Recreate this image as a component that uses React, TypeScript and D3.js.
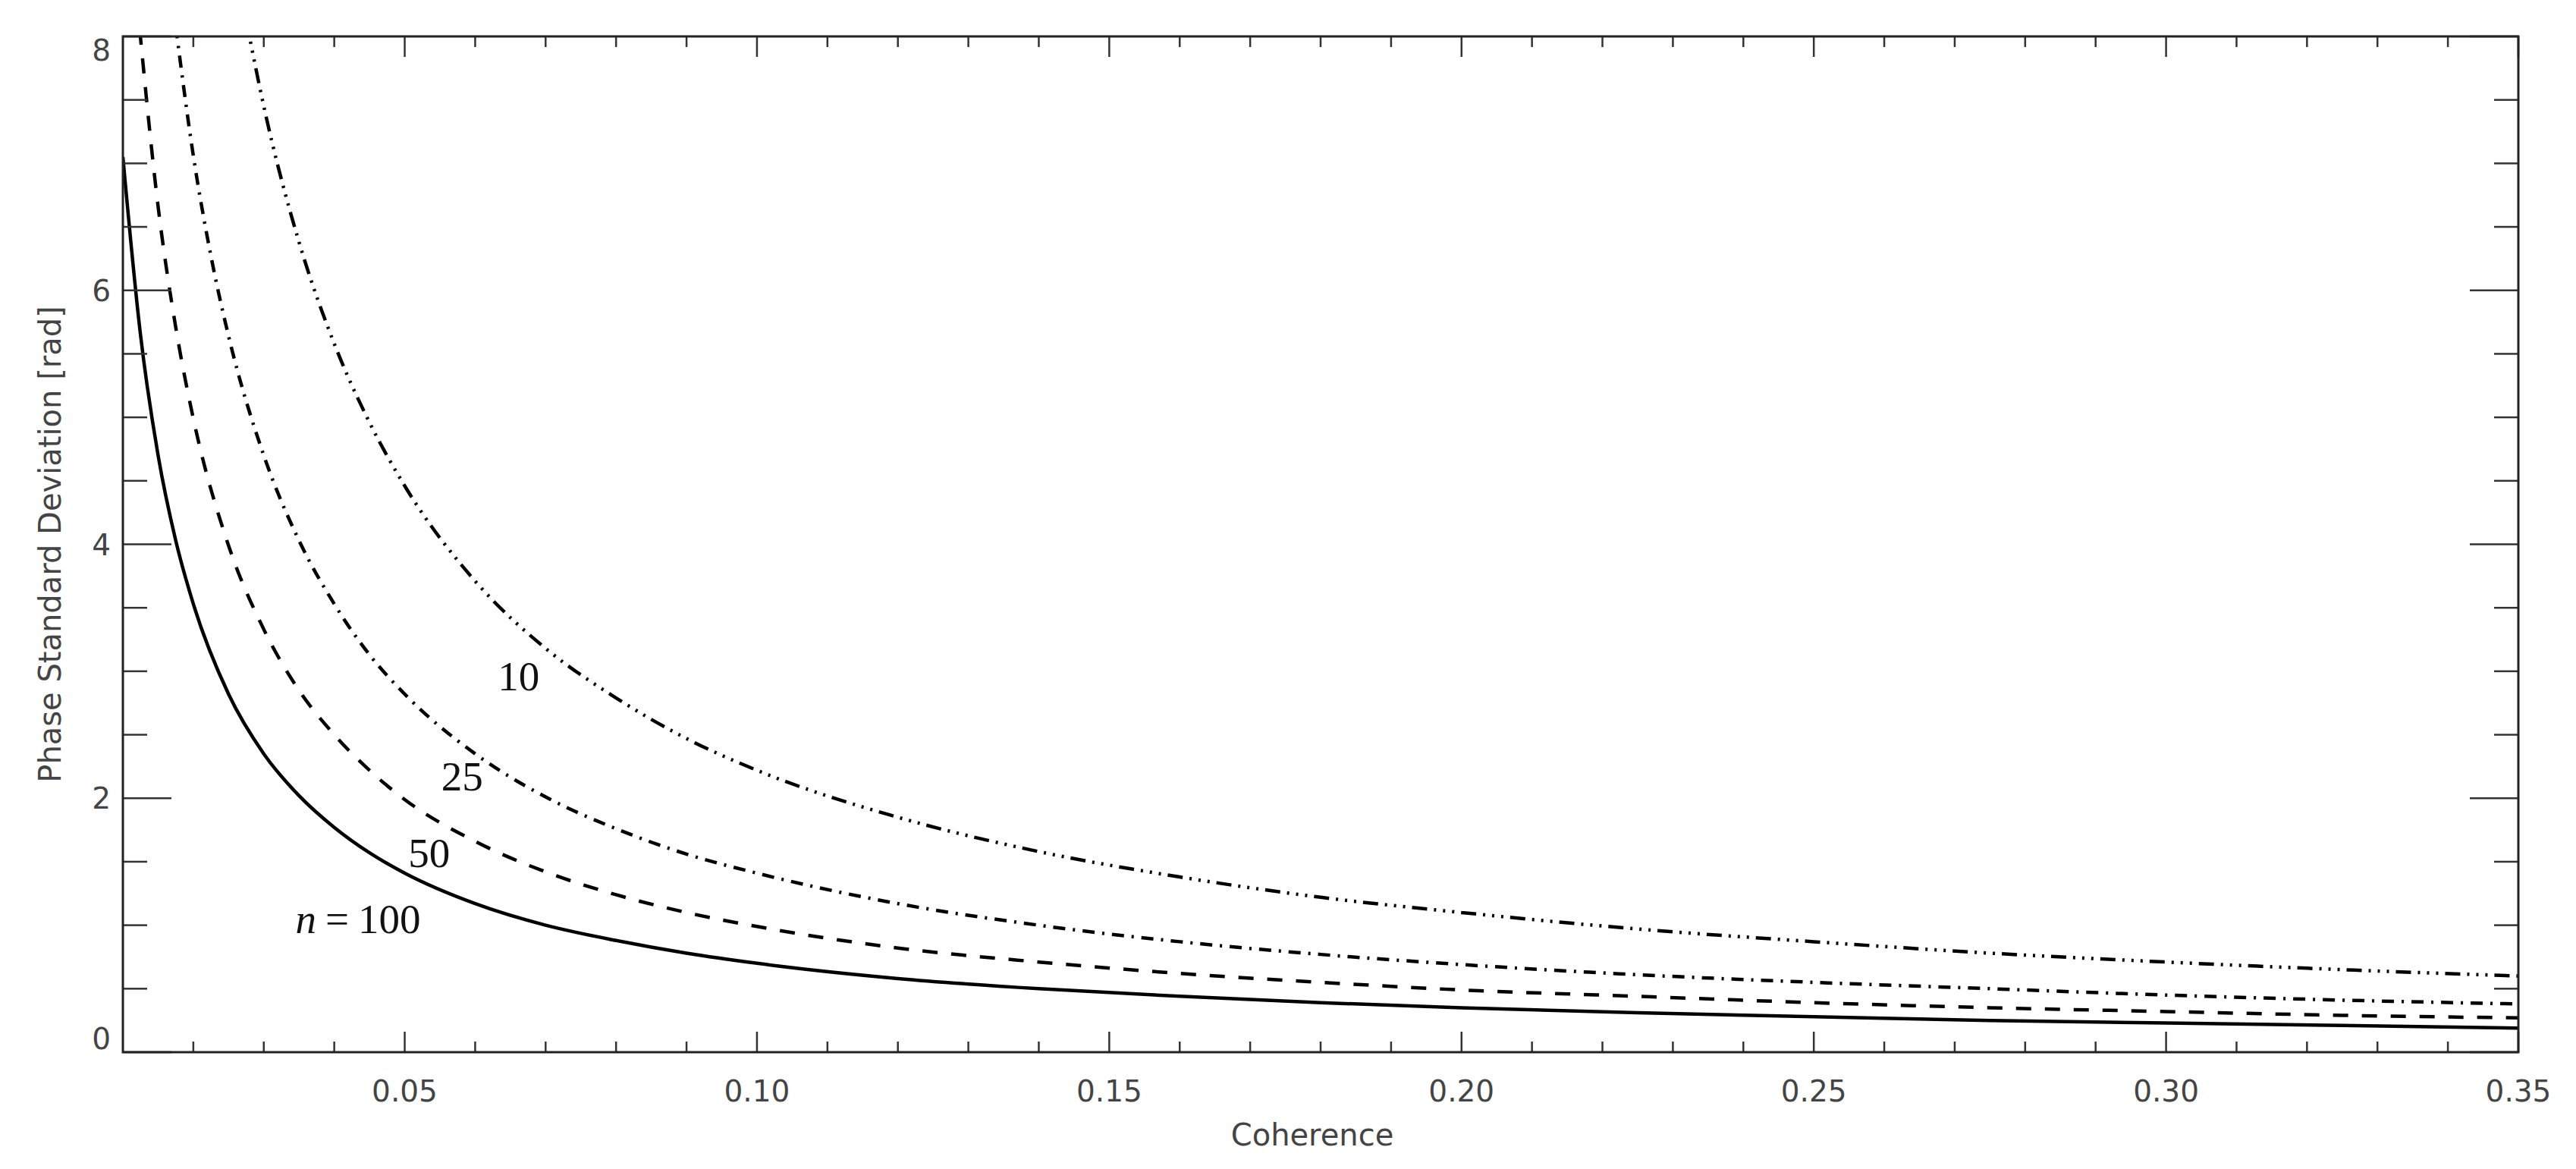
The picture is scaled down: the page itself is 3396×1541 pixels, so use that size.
import { useEffect } from "react";
import * as d3 from "d3";

// coherence samples (x) and phase std dev for each look count
const coh100 = [0.01, 0.0125, 0.015, 0.0175, 0.02, 0.025, 0.03, 0.035, 0.04, 0.045, 0.05, 0.06, 0.07, 0.08, 0.09, 0.1, 0.12, 0.14, 0.16, 0.18, 0.2, 0.225, 0.25, 0.275, 0.3, 0.325, 0.35];
const std100 = [7.05, 5.65, 4.7, 4.03, 3.53, 2.82, 2.35, 2.02, 1.77, 1.57, 1.41, 1.17, 1.0, 0.88, 0.78, 0.7, 0.58, 0.5, 0.44, 0.39, 0.35, 0.31, 0.28, 0.25, 0.23, 0.21, 0.19];

const coh50 = [0.012, 0.0125, 0.015, 0.0175, 0.02, 0.025, 0.03, 0.035, 0.04, 0.045, 0.05, 0.06, 0.07, 0.08, 0.09, 0.1, 0.12, 0.14, 0.16, 0.18, 0.2, 0.225, 0.25, 0.275, 0.3, 0.325, 0.35];
const std50 = [8.28, 7.99, 6.66, 5.71, 4.99, 3.99, 3.33, 2.85, 2.5, 2.22, 1.99, 1.66, 1.42, 1.24, 1.1, 0.99, 0.82, 0.71, 0.62, 0.55, 0.49, 0.44, 0.39, 0.35, 0.32, 0.29, 0.27];

const coh25 = [0.0175, 0.02, 0.0225, 0.025, 0.03, 0.035, 0.04, 0.045, 0.05, 0.06, 0.07, 0.08, 0.09, 0.1, 0.12, 0.14, 0.16, 0.18, 0.2, 0.225, 0.25, 0.275, 0.3, 0.325, 0.35];
const std25 = [8.08, 7.06, 6.27, 5.64, 4.7, 4.03, 3.53, 3.13, 2.82, 2.35, 2.01, 1.76, 1.56, 1.41, 1.17, 1.0, 0.87, 0.77, 0.69, 0.61, 0.55, 0.5, 0.45, 0.41, 0.38];

const coh10 = [0.0275, 0.03, 0.035, 0.04, 0.045, 0.05, 0.06, 0.07, 0.08, 0.09, 0.1, 0.12, 0.14, 0.16, 0.18, 0.2, 0.225, 0.25, 0.275, 0.3, 0.325, 0.35];
const std10 = [8.13, 7.45, 6.38, 5.58, 4.96, 4.46, 3.71, 3.18, 2.79, 2.47, 2.22, 1.85, 1.58, 1.38, 1.22, 1.1, 0.97, 0.87, 0.78, 0.71, 0.65, 0.6];

const xMajorTicks = [0.05, 0.1, 0.15, 0.2, 0.25, 0.3, 0.35];
const xTickLabels = ["0.05", "0.10", "0.15", "0.20", "0.25", "0.30", "0.35"];
const xMinorTicks = [0.02, 0.03, 0.04, 0.06, 0.07, 0.08, 0.09, 0.11, 0.12, 0.13, 0.14, 0.16, 0.17, 0.18, 0.19, 0.21, 0.22, 0.23, 0.24, 0.26, 0.27, 0.28, 0.29, 0.31, 0.32, 0.33, 0.34];
const yMajorTicks = [0, 2, 4, 6, 8];
const yMinorTicks = [0.5, 1, 1.5, 2.5, 3, 3.5, 4.5, 5, 5.5, 6.5, 7, 7.5];

// curve labels, in data units (coherence, std dev of the text baseline)
const labelText = ["10", "25", "50"];
const labelX = [0.0632, 0.0552, 0.0505];
const labelY = [2.85, 2.06, 1.46];

const series = [
  { x: coh100, y: std100, dash: null },
  { x: coh50, y: std50, dash: "20,18" },
  { x: coh25, y: std25, dash: "16,10,3,10" },
  { x: coh10, y: std10, dash: "20,9,3,9,3,9,3,9" },
];

const W = 3396;
const H = 1541;
const margin = { left: 162, right: W - 3320, top: 48, bottom: H - 1387 };

export default function App() {
  useEffect(() => {
    document.body.style.margin = "0";
  }, []);

  const x = d3.scaleLinear().domain([0.01, 0.35]).range([margin.left, W - margin.right]);
  const y = d3.scaleLinear().domain([0, 8]).range([H - margin.bottom, margin.top]);
  const [x0, x1] = x.range();
  const [y0, y1] = y.range();

  const line = d3
    .line<[number, number]>()
    .x((d) => x(d[0]))
    .y((d) => y(d[1]))
    .curve(d3.curveMonotoneX);

  const tickColor = "#333";
  const sans = "'DejaVu Sans', sans-serif";
  const serif = "'Liberation Serif', 'Times New Roman', serif";

  return (
    <svg width={W} height={H} style={{ display: "block", background: "#fff" }}>
      <defs>
        <clipPath id="plotClip">
          <rect x={x0} y={y1} width={x1 - x0} height={y0 - y1} />
        </clipPath>
      </defs>

      {/* curves */}
      <g clipPath="url(#plotClip)">
        {series.map((s, i) => (
          <path
            key={i}
            d={line(s.x.map((v, j) => [v, s.y[j]] as [number, number])) ?? ""}
            fill="none"
            stroke="#000"
            strokeWidth={4.5}
            strokeDasharray={s.dash ?? undefined}
          />
        ))}
      </g>

      {/* ticks, all four sides */}
      <g stroke={tickColor} strokeWidth={2.5}>
        {xMajorTicks.map((t) => (
          <g key={"xM" + t}>
            <line x1={x(t)} x2={x(t)} y1={y0} y2={y0 - 27} />
            <line x1={x(t)} x2={x(t)} y1={y1} y2={y1 + 27} />
          </g>
        ))}
        {xMinorTicks.map((t) => (
          <g key={"xm" + t}>
            <line x1={x(t)} x2={x(t)} y1={y0} y2={y0 - 14} />
            <line x1={x(t)} x2={x(t)} y1={y1} y2={y1 + 14} />
          </g>
        ))}
        {yMajorTicks.map((t) => (
          <g key={"yM" + t}>
            <line x1={x0} x2={x0 + 64} y1={y(t)} y2={y(t)} />
            <line x1={x1} x2={x1 - 64} y1={y(t)} y2={y(t)} />
          </g>
        ))}
        {yMinorTicks.map((t) => (
          <g key={"ym" + t}>
            <line x1={x0} x2={x0 + 32} y1={y(t)} y2={y(t)} />
            <line x1={x1} x2={x1 - 32} y1={y(t)} y2={y(t)} />
          </g>
        ))}
      </g>

      {/* frame */}
      <rect x={x0} y={y1} width={x1 - x0} height={y0 - y1} fill="none" stroke="#222" strokeWidth={3} />

      {/* tick labels */}
      <g fontFamily={sans} fontSize={39} fill="#444">
        {xMajorTicks.map((t, i) => (
          <text key={"xl" + t} x={x(t)} y={y0 + 65} textAnchor="middle">
            {xTickLabels[i]}
          </text>
        ))}
        {yMajorTicks.map((t, i) => {
          let dy = 14;
          if (i === 0) dy = -4;
          if (i === yMajorTicks.length - 1) dy = 32;
          return (
            <text key={"yl" + t} x={x0 - 16} y={y(t) + dy} textAnchor="end">
              {t}
            </text>
          );
        })}
      </g>

      {/* axis titles */}
      <text x={1730} y={1510} textAnchor="middle" fontFamily={sans} fontSize={40} fill="#444">
        Coherence
      </text>
      <text
        transform={`translate(80, ${(y0 + y1) / 2}) rotate(-90)`}
        textAnchor="middle"
        fontFamily={sans}
        fontSize={40}
        fill="#444"
      >
        Phase Standard Deviation [rad]
      </text>

      {/* curve labels */}
      <g fontFamily={serif} fontSize={55} fill="#111">
        {labelText.map((t, i) => (
          <text key={t} x={x(labelX[i])} y={y(labelY[i])}>
            {t}
          </text>
        ))}
        <text x={x(0.0345)} y={y(0.94)}>
          <tspan fontStyle="italic">n</tspan>
          <tspan dx={12}>=</tspan>
          <tspan dx={12}>100</tspan>
        </text>
      </g>
    </svg>
  );
}
